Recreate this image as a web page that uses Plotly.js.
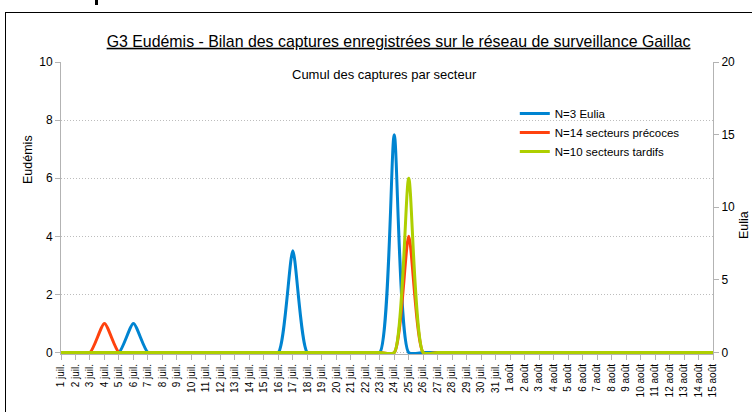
<!DOCTYPE html>
<html><head><meta charset="utf-8">
<script src="https://cdn.plot.ly/plotly-3.0.1.min.js"></script>
<style>
html,body{margin:0;padding:0;background:#fff;}
#chart{position:absolute;left:0;top:0;width:752px;height:412px;}
#frame{position:absolute;left:5px;top:12px;width:760px;height:420px;border-left:1px solid #000;border-top:1px solid #000;pointer-events:none;}
#mark{position:absolute;left:95px;top:0;width:3px;height:5px;background:#000;}
</style></head>
<body><div id="chart"></div><div id="frame"></div><div id="mark"></div>
<script>
const days = ['1 juil.','2 juil.','3 juil.','4 juil.','5 juil.','6 juil.','7 juil.','8 juil.','9 juil.','10 juil.',
  '11 juil.','12 juil.','13 juil.','14 juil.','15 juil.','16 juil.','17 juil.','18 juil.','19 juil.','20 juil.',
  '21 juil.','22 juil.','23 juil.','24 juil.','25 juil.','26 juil.','27 juil.','28 juil.','29 juil.','30 juil.','31 juil.',
  '1 août','2 août','3 août','4 août','5 août','6 août','7 août','8 août','9 août','10 août',
  '11 août','12 août','13 août','14 août','15 août'];
// N=3 Eulia (right axis)
const eulia = [0,0,0,0,0,2,0,0,0,0, 0,0,0,0,0,0,7,0,0,0, 0,0,0,15,0,0,0,0,0,0,0, 0,0,0,0,0,0,0,0,0,0, 0,0,0,0,0];
// N=14 secteurs précoces (left axis)
const precoces = [0,0,0,1,0,0,0,0,0,0, 0,0,0,0,0,0,0,0,0,0, 0,0,0,0,4,0,0,0,0,0,0, 0,0,0,0,0,0,0,0,0,0, 0,0,0,0,0];
// N=10 secteurs tardifs (left axis)
const tardifs = [0,0,0,0,0,0,0,0,0,0, 0,0,0,0,0,0,0,0,0,0, 0,0,0,0,6,0,0,0,0,0,0, 0,0,0,0,0,0,0,0,0,0, 0,0,0,0,0];
const leftTicks = [0,2,4,6,8,10];
const rightTicks = [0,5,10,15,20];

const FONT = 'Liberation Sans, Arial, sans-serif';
const SM = 0.6;
// Eulia on the base (right-side) axis so the Eudémis series are drawn above it
const traces = [
  {x: days, y: eulia, name: 'N=3 Eulia', yaxis: 'y', type: 'scatter', mode: 'lines',
   line: {color: '#0084d1', width: 3, shape: 'spline', smoothing: SM}},
  {x: days, y: precoces, name: 'N=14 secteurs précoces', yaxis: 'y2', type: 'scatter', mode: 'lines',
   line: {color: '#ff420e', width: 3, shape: 'spline', smoothing: SM}},
  {x: days, y: tardifs, name: 'N=10 secteurs tardifs', yaxis: 'y2', type: 'scatter', mode: 'lines',
   line: {color: '#aecf00', width: 3, shape: 'spline', smoothing: SM}}
];
const layout = {
  width: 752, height: 412,
  margin: {l: 61, r: 39, t: 62, b: 58, pad: 0},
  paper_bgcolor: '#fff', plot_bgcolor: '#fff',
  font: {family: FONT, color: '#000'},
  showlegend: true,
  title: {text: '<u>G3 Eudémis - Bilan des captures enregistrées sur le réseau de surveillance Gaillac</u>',
    font: {size: 15.9, family: FONT, color: '#000'},
    x: 0.53, xref: 'container', xanchor: 'center', y: 0.9, yref: 'container', yanchor: 'middle'},
  xaxis: {type: 'category', range: [0, days.length - 1], tickmode: 'array', tickvals: days, ticktext: days,
    tickangle: -90, tickfont: {size: 10, color: '#000'}, showgrid: false, showline: true,
    linecolor: '#b3b3b3', linewidth: 1, ticks: 'outside', ticklen: 5, tickcolor: '#b3b3b3', zeroline: false},
  yaxis: {range: [-0.1, 20], side: 'right', tickmode: 'array', tickvals: rightTicks,
    tickfont: {size: 12, color: '#000'}, showgrid: false, showline: true, linecolor: '#b3b3b3',
    ticks: 'outside', ticklen: 5, tickcolor: '#b3b3b3', zeroline: false},
  yaxis2: {range: [-0.05, 10], overlaying: 'y', side: 'left', tickmode: 'array', tickvals: leftTicks,
    tickfont: {size: 12, color: '#000'},
    showgrid: true, gridcolor: '#bdbdbd', griddash: '1px,2px', gridwidth: 1, showline: true,
    linecolor: '#b3b3b3', ticks: 'outside', ticklen: 5, tickcolor: '#b3b3b3', zeroline: false},
  legend: {x: 0.696, y: (354 - 99) / 292, xanchor: 'left', yanchor: 'top', bgcolor: 'rgba(0,0,0,0)',
    font: {size: 11.5, family: FONT, color: '#000'}, tracegroupgap: 0, traceorder: 'normal'},
  annotations: [
    {text: 'Cumul des captures par secteur', xref: 'paper', yref: 'paper', x: (384 - 61) / 652, y: (354 - 75) / 292,
     xanchor: 'center', yanchor: 'middle', showarrow: false, font: {size: 13, family: FONT, color: '#000'}},
    {text: 'Eudémis', xref: 'paper', yref: 'paper', x: (28 - 61) / 652, y: (354 - 160) / 292, textangle: -90,
     xanchor: 'center', yanchor: 'middle', showarrow: false, font: {size: 12.5, family: FONT, color: '#000'}},
    {text: 'Eulia', xref: 'paper', yref: 'paper', x: (744 - 61) / 652, y: (354 - 225) / 292, textangle: -90,
     xanchor: 'center', yanchor: 'middle', showarrow: false, font: {size: 12.5, family: FONT, color: '#000'}}
  ]
};
Plotly.newPlot('chart', traces, layout, {displayModeBar: false, staticPlot: true});
</script>
</body></html>
